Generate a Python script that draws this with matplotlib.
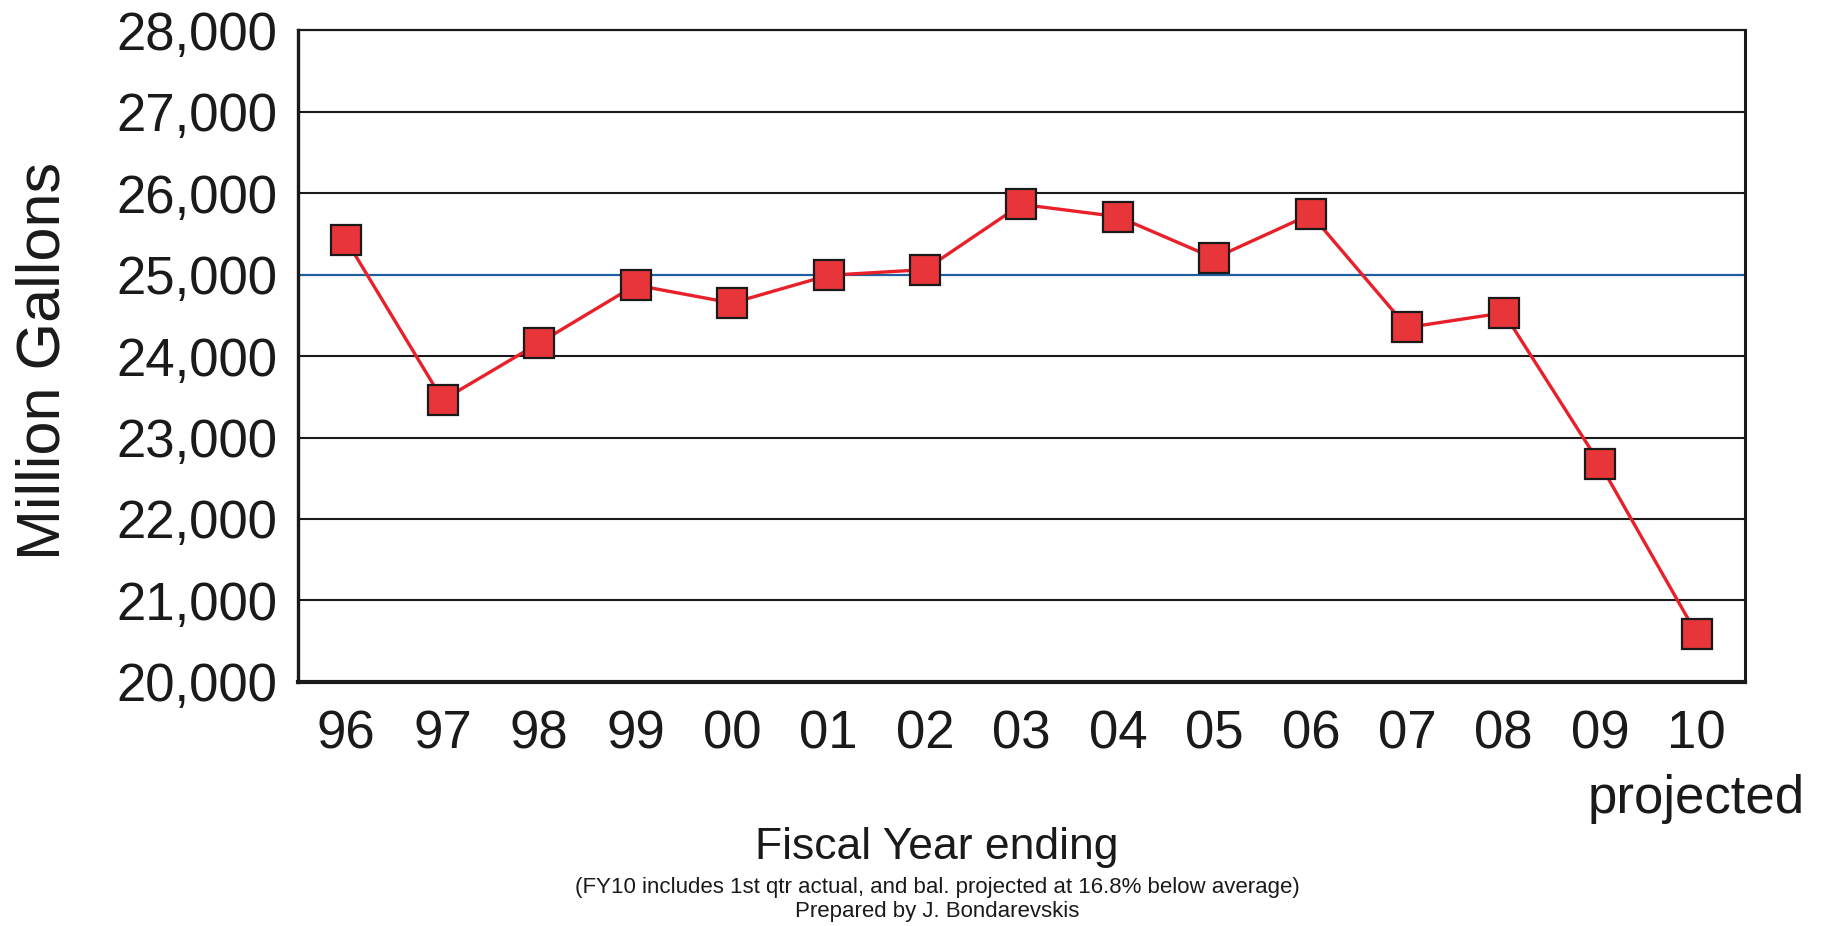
import matplotlib
matplotlib.use("Agg")
import matplotlib.pyplot as plt
from matplotlib.ticker import FuncFormatter

# Fiscal year water use, million gallons
years = ["96", "97", "98", "99", "00", "01", "02", "03", "04", "05",
         "06", "07", "08", "09", "10"]
gallons = [25420, 23460, 24160, 24870, 24650, 24990, 25060, 25860,
           25710, 25200, 25740, 24350, 24530, 22670, 20590]
average = 25000
last_note = "projected"

plt.rcParams["font.family"] = ["Liberation Sans", "DejaVu Sans"]

fig = plt.figure(figsize=(18.25, 9.26), dpi=100)
ax = fig.add_axes([0.1633, 0.2635, 0.7928, 0.7041])

x = list(range(len(years)))
ax.set_xlim(-0.5, len(years) - 0.5)
ax.set_ylim(20000, 28000)
ax.set_yticks(range(20000, 28001, 1000))
ax.yaxis.set_major_formatter(FuncFormatter(lambda v, p: f"{int(v):,}"))

# horizontal grid
for v in range(21000, 28000, 1000):
    if v != average:
        ax.axhline(v, color="#1a1a1a", lw=1.5, zorder=1)
ax.axhline(average, color="#1f5f9e", lw=1.6, zorder=1)

ax.plot(x, gallons, color="#e8202a", lw=2.4, zorder=3,
        marker="s", markersize=21, markerfacecolor="#e8353a",
        markeredgecolor="#1a1a1a", markeredgewidth=1.6)

ax.set_xticks(x)
ax.set_xticklabels(years)
ax.tick_params(axis="both", length=0, labelsize=38, colors="#1a1a1a")
ax.tick_params(axis="y", pad=15)
ax.tick_params(axis="x", pad=20)

# "projected" note under the last year
ax.annotate(last_note, xy=(x[-1], 0), xycoords=("data", "axes fraction"),
            xytext=(0, -66), textcoords="offset points",
            ha="center", va="top", fontsize=38, color="#1a1a1a")

for side, w in [("left", 2.4), ("bottom", 3.0), ("top", 1.6), ("right", 2.2)]:
    ax.spines[side].set_linewidth(w)
    ax.spines[side].set_color("#1a1a1a")

fig.text(44 / 1825, 1 - 361 / 926, "Million Gallons", rotation=90,
         ha="center", va="center", fontsize=44, color="#1a1a1a")
fig.text(937 / 1825, 1 - 847 / 926, "Fiscal Year ending",
         ha="center", va="center", fontsize=32, color="#1a1a1a")
fig.text(937 / 1825, 1 - 888 / 926,
         "(FY10 includes 1st qtr actual, and bal. projected at 16.8% below average)",
         ha="center", va="center", fontsize=16, color="#1a1a1a")
fig.text(937 / 1825, 1 - 912 / 926, "Prepared by J. Bondarevskis",
         ha="center", va="center", fontsize=16, color="#1a1a1a")

fig.savefig("out.png", dpi=100, facecolor="white")
